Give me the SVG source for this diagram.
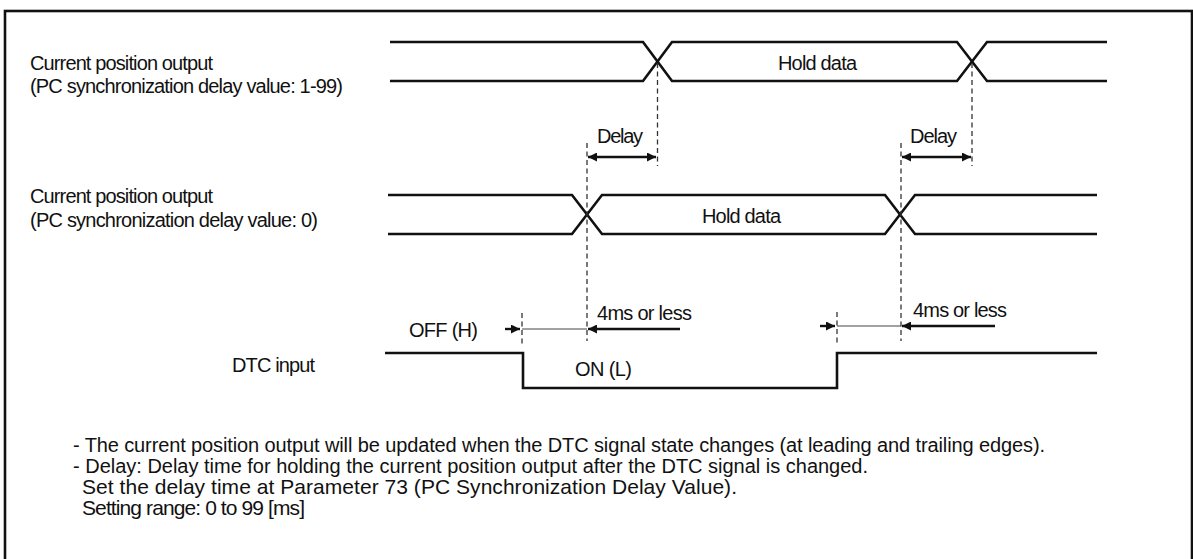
<svg xmlns="http://www.w3.org/2000/svg" width="1193" height="559" viewBox="0 0 1193 559">
<style>
text{font-family:"Liberation Sans",Arial,sans-serif;font-size:20px;fill:#111}
.n2{font-size:21px}
.w{fill:none;stroke:#111;stroke-width:2.6;stroke-linejoin:miter}
.d{fill:none;stroke:#333;stroke-width:1.3;stroke-dasharray:5,3.5}
.a{fill:none;stroke:#111;stroke-width:2.4}
.t{fill:none;stroke:#444;stroke-width:1.2}
</style>
<defs>
<marker id="ah" viewBox="0 0 10 10" refX="10" refY="5" markerWidth="11" markerHeight="9" markerUnits="userSpaceOnUse" orient="auto-start-reverse">
<path d="M0,0 L10,5 L0,10 z" fill="#111"/>
</marker>
</defs>
<rect x="5" y="11" width="1187" height="560" fill="#fff" stroke="#111" stroke-width="2.6"/>

<g id="label-pc1">
<text x="30" y="70" textLength="183" lengthAdjust="spacing">Current position output</text>
<text x="30" y="93" textLength="313" lengthAdjust="spacing">(PC synchronization delay value: 1-99)</text>
</g>
<g id="label-pc0">
<text x="30" y="203" textLength="183" lengthAdjust="spacing">Current position output</text>
<text x="30" y="227" textLength="288" lengthAdjust="spacing">(PC synchronization delay value: 0)</text>
</g>
<g id="label-dtc">
<text x="232" y="372" textLength="83" lengthAdjust="spacing">DTC input</text>
</g>

<g id="wave-pc1">
<path class="w" d="M390,42 H643 L672,81 H957 L987,42 H1107"/>
<path class="w" d="M390,81 H643 L672,42 H957 L987,81 H1107"/>
<text x="778" y="70" textLength="79" lengthAdjust="spacing">Hold data</text>
</g>
<g id="wave-pc0">
<path class="w" d="M388,195 H572 L602,234 H885 L915,195 H1097"/>
<path class="w" d="M388,234 H572 L602,195 H885 L915,234 H1097"/>
<text x="702" y="223" textLength="79" lengthAdjust="spacing">Hold data</text>
</g>
<g id="wave-dtc">
<path class="w" d="M385,353 H523 V388 H837 V353 H1097"/>
<text x="409" y="337" textLength="69" lengthAdjust="spacing">OFF (H)</text>
<text x="575" y="376" textLength="57" lengthAdjust="spacing">ON (L)</text>
</g>

<g id="connectors">
<line class="d" x1="657.5" y1="63" x2="657.5" y2="166"/>
<line class="d" x1="972" y1="63" x2="972" y2="166"/>
<line class="d" x1="587" y1="143" x2="587" y2="341"/>
<line class="d" x1="901" y1="143" x2="901" y2="341"/>
<line class="d" x1="522" y1="313" x2="522" y2="346"/>
<line class="d" x1="837" y1="312" x2="837" y2="344"/>
<line class="a" x1="588" y1="157" x2="656" y2="157" marker-start="url(#ah)" marker-end="url(#ah)"/>
<line class="a" x1="902" y1="157" x2="971" y2="157" marker-start="url(#ah)" marker-end="url(#ah)"/>
<line class="a" x1="505" y1="329" x2="520" y2="329" marker-end="url(#ah)"/>
<line class="t" x1="522" y1="329" x2="587" y2="329"/>
<line class="a" x1="680" y1="329" x2="588" y2="329" marker-end="url(#ah)"/>
<line class="a" x1="820" y1="326" x2="835" y2="326" marker-end="url(#ah)"/>
<line class="t" x1="837" y1="326" x2="901" y2="326"/>
<line class="a" x1="995" y1="326" x2="902" y2="326" marker-end="url(#ah)"/>
</g>
<g id="labels">
<text x="597" y="143" textLength="46" lengthAdjust="spacing">Delay</text>
<text x="910" y="143" textLength="47" lengthAdjust="spacing">Delay</text>
<text x="597" y="320" textLength="95" lengthAdjust="spacing">4ms or less</text>
<text x="913" y="317" textLength="94" lengthAdjust="spacing">4ms or less</text>
</g>
<g id="notes">
<text x="73" y="452" textLength="972" lengthAdjust="spacing">- The current position output will be updated when the DTC signal state changes (at leading and trailing edges).</text>
<text x="73" y="473" textLength="795" lengthAdjust="spacing">- Delay: Delay time for holding the current position output after the DTC signal is changed.</text>
<text class="n2" x="82" y="494" textLength="655" lengthAdjust="spacing">Set the delay time at Parameter 73 (PC Synchronization Delay Value).</text>
<text class="n2" x="82" y="515" textLength="223" lengthAdjust="spacing">Setting range: 0 to 99 [ms]</text>
</g>
</svg>
